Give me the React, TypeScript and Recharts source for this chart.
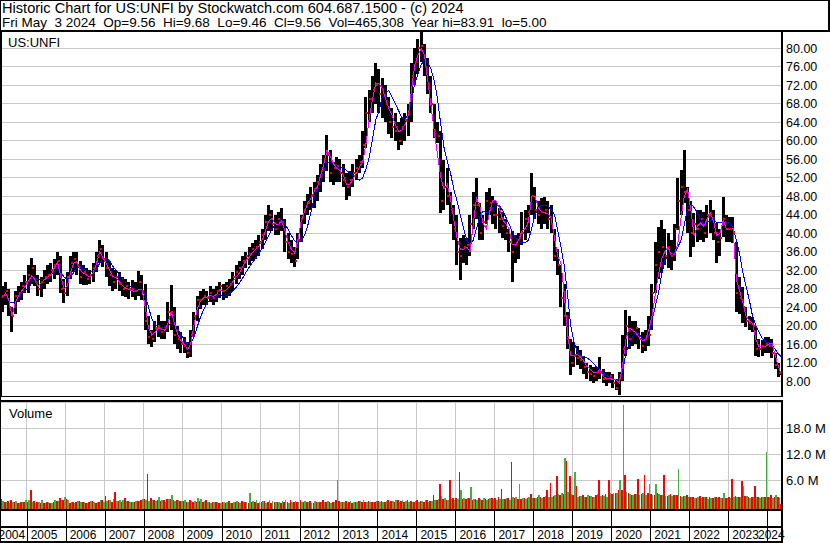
import React from 'react';
import {
  ComposedChart,
  Bar,
  Line,
  Scatter,
  XAxis,
  YAxis,
  CartesianGrid,
} from 'recharts';

const FONT = '"Liberation Sans", Arial, sans-serif';

const titleLine = 'Historic Chart for US:UNFI by Stockwatch.com 604.687.1500 - (c) 2024';
const quoteLine = 'Fri May  3 2024  Op=9.56  Hi=9.68  Lo=9.46  Cl=9.56  Vol=465,308  Year hi=83.91  lo=5.00';
const symbol = 'US:UNFI';

const years = [2004, 2005, 2006, 2007, 2008, 2009, 2010, 2011, 2012, 2013, 2014,
  2015, 2016, 2017, 2018, 2019, 2020, 2021, 2022, 2023, 2024];
const priceTicks = [8, 12, 16, 20, 24, 28, 32, 36, 40, 44, 48, 52, 56, 60, 64, 68, 72, 76, 80];
const volumeTicks = [6, 12, 18];

// monthly bars, May 2004 .. May 2024
const START_YEAR = 2004;
const START_MONTH = 5;

const lows = [
  23, 24.5, 22, 18.7, 22.5, 25, 25.5, 27,
  27, 29, 28.5, 26.5, 26.2, 28, 29, 29.5, 30, 31, 27, 24.8,
  26.5, 30, 31.5, 31, 29, 28.8, 28.8, 29, 29.5, 31.5, 33.5, 32.7,
  30.5, 28.5, 27.5, 28, 27.5, 26.5, 26.2, 25.8, 26.2, 25.5, 26.5, 25.5,
  19, 16, 15.4, 16.5, 17.5, 17, 17, 18.5, 19, 16, 15, 14,
  14, 13, 13.2, 17.5, 21, 23.5, 24.5, 24.5, 25, 24.5, 25, 26,
  25.5, 26, 26.5, 27.5, 29, 30, 31, 32.5, 33, 34, 34.5, 35,
  36.5, 38.5, 40.5, 40.5, 39.5, 39.5, 40.5, 36, 34.5, 33.5, 32.7, 34.5,
  38, 42, 44, 45, 45.5, 47, 49, 51, 53.5, 51, 50.5, 51,
  51, 50, 47.2, 48, 50, 51.5, 53, 54, 58.5, 64, 66, 68,
  66, 65, 64, 61.5, 60.5, 60, 58, 59, 60, 61, 64, 72,
  74.5, 77, 74, 70, 66, 60.5, 59.5, 44.4, 45, 46, 42, 38.5,
  33, 29.9, 33.5, 33, 35, 41, 43, 38.5, 38.5, 42, 44, 42,
  41, 40, 39, 38.5, 36, 29.4, 33.5, 34.5, 37.5, 38.5, 40, 44,
  43, 42, 41, 42, 41, 40, 34, 31, 24, 20, 15, 9.3,
  11, 11.5, 10.5, 9.5, 8.5, 8, 7.6, 8, 8.5, 7.5, 7, 7.5,
  6.5, 6, 5, 8, 13.5, 15, 15.5, 16, 15, 14, 14.5, 15.5,
  19, 27, 30, 31.4, 33, 32.5, 32, 34, 40.7, 44, 46.5, 40,
  34.8, 37, 38, 38.5, 38, 39, 40, 38.5, 33.5, 35, 39.2, 38,
  38, 37.9, 23, 22.5, 20.5, 19.7, 19, 18.5, 13.5, 13.2, 13.5, 14,
  14, 13, 10.5, 8.9, 9.3,
];

const highs = [
  28.5, 29.5, 28, 24, 27.5, 28.5, 29.5, 31,
  33, 34.6, 33, 31, 30.5, 32, 33, 33.5, 34.5, 36, 35, 30,
  31.5, 35, 36, 36, 34, 33, 32.5, 32, 33.5, 36, 38.5, 37.5,
  36, 34, 32.5, 32, 31.5, 30.5, 30, 29.5, 29.8, 29.5, 31.8, 31,
  29, 22, 19, 21, 22.3, 21, 21, 25, 28.8, 24, 20, 18.5,
  17.5, 16.5, 19, 23, 26.5, 27.5, 28, 27.5, 28.5, 28, 28.5, 29.5,
  29, 29.5, 30, 31.5, 33, 34, 35, 36, 37, 37.8, 38.5, 39.5,
  41, 44, 46.1, 45, 44, 44.5, 45.4, 43, 40, 38.5, 37, 40,
  44, 47, 48.5, 50, 51, 52.5, 55, 57, 61.2, 58, 55.5, 56.5,
  56, 55, 53, 53.5, 55, 56, 57, 62, 69.5, 71, 74, 76.8,
  75.5, 73.5, 72, 69.5, 67, 66, 64, 65, 66, 68, 76.8, 80,
  82, 83.9, 81, 78, 74, 68, 64, 62, 55.8, 54, 49, 46,
  44, 39, 39.5, 39, 44, 49, 51.9, 46.5, 44, 49, 49.8, 48,
  47, 45.5, 44.5, 43, 41, 40.5, 39.5, 40, 44.5, 45, 46, 53,
  50, 47, 47.5, 47.8, 47, 46, 41, 36.5, 33, 29, 23, 17,
  16.5, 15.5, 14.7, 13.5, 12, 11.5, 11, 11, 13.2, 10.5, 10, 10,
  9.5, 8.5, 10, 18, 23.4, 22, 21, 21, 19.5, 18.5, 19, 22,
  29, 38, 41.3, 42.8, 41, 40, 38.5, 42, 52, 53.7, 58, 50,
  47, 44.4, 45, 45, 44.5, 46, 47.2, 45, 42.2, 41, 47.8, 44,
  43.5, 43.5, 38, 30.5, 28.3, 24, 22, 21.9, 20, 17, 16.9, 17.5,
  17.5, 17, 14, 12, 10,
];

const closes = [
  26.5, 27.5, 24, 22, 26.5, 27, 28.5, 29.5,
  31, 32.5, 29.5, 28, 29.5, 30.5, 31, 32, 33, 34, 28, 27,
  30.5, 33.5, 34.5, 33, 30.5, 31.5, 30, 31, 32.5, 35, 36.5, 34.5,
  32.5, 31, 29.5, 30.5, 29, 28, 28.5, 28, 28, 27.5, 29.5, 27.5,
  21, 17.5, 17, 19.5, 20, 18.5, 19.5, 23, 23, 18, 17, 16,
  15.5, 14, 18, 22, 25.5, 25.5, 26.5, 26, 27, 26, 27.5, 28.5,
  27.5, 28.5, 29, 30.5, 31.5, 32.5, 34, 35, 35.5, 36.5, 37, 38,
  39.5, 42.5, 44, 42, 41, 43, 42.5, 38, 36, 35.5, 34, 38.5,
  43, 45, 46.5, 48, 49.5, 51, 53.5, 56, 57, 53, 54, 54.5,
  53, 51.5, 50, 51.5, 53, 54, 55.5, 59, 66, 69, 71, 72,
  70, 71, 68, 64, 63, 62, 60, 63, 64.5, 66, 74, 77,
  80, 80.5, 76, 72, 68, 62, 61, 47, 50, 48, 45, 41,
  36, 35, 37, 37.5, 42, 46, 46, 40, 42.5, 47, 46.5, 44,
  44, 43, 41.5, 40, 38, 36, 37.5, 39, 40, 43, 44.5, 48,
  45, 44, 44.5, 45, 43, 42, 35, 33, 26, 22, 17, 12,
  13.5, 13, 12.5, 11, 10, 9.5, 9, 10, 10, 8.5, 8.5, 9,
  7.5, 6.5, 8.5, 15, 20, 17, 19, 19.5, 17, 15.5, 17, 18,
  27, 33, 36, 37, 35, 37, 35, 41, 47, 50, 49, 45,
  40, 42, 41, 43, 40, 44, 44, 40, 38, 39, 43, 41,
  41, 40, 27, 26, 24, 21, 20.5, 20, 15, 15, 15.5, 16,
  15.5, 14, 11.5, 9.8, 9.56,
];

// magenta (short) average
const fastAvg = [
  26, 27, 25.5, 22, 25, 26.5, 27.5, 28.5,
  29.5, 30.8, 30, 28.5, 29.3, 29.9, 30.5, 31, 32.5, 33.8, 30.5, 28,
  28.5, 31.5, 33.5, 33.8, 32, 31.3, 30.9, 30.5, 31.5, 33.5, 36, 34.5,
  33.5, 32, 30.6, 30.3, 29.5, 28.6, 28.1, 27.8, 27.5, 27.3, 27.8, 27.8,
  24, 19.5, 18, 18.5, 19.5, 19.2, 19, 20.5, 23, 20.5, 18, 16.8,
  16, 14.8, 16, 20, 23.5, 25.3, 26, 26.2, 26.5, 26.3, 26.8, 27.8,
  27.3, 27.8, 28.5, 29.5, 30.5, 31.4, 32.8, 34, 34.8, 35.8, 36.5, 37.2,
  38.5, 40.5, 42.5, 43.3, 42, 41.8, 42.8, 40.5, 38, 36.5, 35.7, 38.5,
  42.5, 44.5, 46.5, 47.5, 49, 50, 52.5, 55, 58, 56.5, 55, 54,
  53.5, 52.5, 50.5, 50.5, 51.8, 53, 54.3, 55.5, 59.5, 65, 69, 72.5,
  72.3, 71.3, 69, 67, 65.5, 63.5, 62, 62.3, 63.5, 65.5, 71, 76.5,
  78.5, 80, 78.5, 73, 67.5, 62, 57, 52, 49.5, 50.5, 47.5, 43,
  39, 36.5, 36.5, 37, 36, 42, 47.5, 46, 42.2, 41, 44.5, 47,
  47, 45.5, 43, 42, 41, 37.5, 37.5, 38.5, 40.5, 41, 42.5, 48,
  48, 45.5, 44.7, 44.4, 44.2, 43.2, 39, 35, 33.5, 27, 18.5, 13.5,
  13.5, 13.8, 13.2, 12.3, 11.2, 10.5, 9.8, 9.9, 10.5, 9, 8.5, 8.6,
  8.3, 8.2, 7.6, 11.5, 17, 19.5, 19, 18.5, 17.5, 16.8, 16.9, 19,
  21.9, 26.5, 31, 34.5, 36, 37, 35, 35.5, 37.9, 43.5, 48, 49.5,
  45, 39.5, 41.5, 42.2, 41.5, 43, 44.4, 42.5, 39.5, 40, 42.8, 40.8,
  40.7, 41, 30, 27.5, 25, 22, 21, 20.5, 17, 15.4, 15.4, 15.5,
  16, 16.2, 13.5, 11, 9.3,
];

// blue (long) average
const slowAvg = [
  null, null, 25, 25, 25.2, 26, 27, 27.5,
  28, 29.3, 29.9, 29.9, 29.9, 30, 30.6, 31.2, 31.6, 32.3, 31.5, 30.5,
  30, 30.5, 31.5, 32.5, 32.7, 32.3, 31.8, 31.6, 31.6, 32.2, 33.5, 34.5,
  34.6, 34, 32.8, 32, 31, 30, 29.2, 28.6, 28.2, 27.9, 27.7, 27.6,
  26.5, 24, 21.5, 20.2, 19.7, 19.5, 19.7, 20, 20.5, 20.2, 19.3, 18,
  17, 16, 16.2, 17.5, 19.7, 21.8, 23.5, 24.8, 25.6, 26, 26.3, 26.8,
  26.2, 26.5, 27, 27.5, 28.3, 29.2, 30.3, 31.5, 32.6, 33.6, 34.6, 35.6,
  36.7, 38, 39.5, 40.8, 41.8, 42.5, 42.8, 42, 40.8, 39.5, 38.3, 38,
  38.5, 39.5, 41.5, 44.5, 47.5, 50, 51.5, 53.5, 55, 55.5, 54.8, 54,
  54, 54.3, 53.5, 53, 52.5, 52, 51.5, 52, 54, 56.5, 60.5, 64.5,
  66.5, 69.5, 70.5, 70.8, 69.5, 68, 66.5, 65, 64.5, 66, 68.5, 72.5,
  74.5, 76.5, 77.5, 77, 75.5, 73, 69, 63.5, 58.5, 55.5, 53, 49.5,
  47, 44, 41, 38.5, 37.3, 38.5, 41, 43.5, 44.8, 44.5, 44.5, 45.5,
  46, 46, 45, 43.5, 42, 40.3, 39, 38.2, 37.9, 37.9, 38.5, 41,
  44, 45.5, 46, 46, 45.8, 45, 44, 40.5, 37, 33, 27, 20,
  16.5, 14.5, 13.5, 13.2, 13, 12.5, 11.8, 11, 10.4, 9.7, 9.2, 8.8,
  8.5, 8.2, 8.3, 10, 14, 16, 17.5, 18.5, 18.2, 17.2, 16.9, 17.5,
  21, 24, 27, 31, 34, 35.5, 35.7, 35.7, 37, 38.5, 42, 45.5,
  46.5, 45.5, 44.5, 43, 42, 42.3, 42.7, 42.8, 42.3, 42.2, 42.3, 42.5,
  42, 41.3, 38.5, 35.5, 31.5, 28.5, 25.5, 22, 20, 18.5, 17.2, 16.5,
  16.2, 15.8, 14.8, 13.8, 13.2,
];

// volume in millions, down weeks (red) and up weeks (green)
const volDown = [
  1.6, 1.0, 1.2, 1.4, 0.9, 0.8, 1.0, 0.9,
  1.0, 3.8, 1.2, 0.9, 0.8, 0.7, 0.9, 0.8, 1.0, 1.1, 1.8, 1.5,
  1.6, 0.8, 0.9, 1.0, 1.1, 0.9, 0.8, 0.9, 1.2, 0.8, 0.9, 1.3,
  2.4, 1.3, 1.0, 3.3, 1.2, 1.0, 1.9, 1.1, 1.0, 0.9, 1.2, 1.3,
  1.6, 7.5, 1.8, 1.3, 1.5, 1.2, 1.3, 1.7, 1.6, 1.5, 1.3, 1.1,
  1.2, 1.0, 1.3, 1.0, 0.9, 1.1, 0.9, 1.3, 1.0, 0.9, 1.0, 0.8,
  1.0, 0.8, 1.2, 0.8, 1.0, 0.9, 1.1, 0.9, 0.8, 1.0, 0.9, 0.8,
  0.9, 1.2, 1.0, 0.8, 1.0, 0.9, 0.8, 1.0, 0.9, 1.3, 1.0, 0.9,
  1.4, 1.0, 0.9, 1.1, 0.8, 1.0, 0.9, 1.5, 1.0, 0.9, 1.0, 1.3,
  1.2, 1.0, 1.1, 0.9, 0.8, 1.0, 1.1, 1.0, 0.9, 1.2, 0.9, 1.0,
  1.1, 1.2, 1.0, 1.3, 1.1, 1.0, 1.4, 1.2, 1.0, 1.3, 1.1, 1.0,
  1.4, 1.2, 1.0, 1.3, 1.2, 2.6, 1.5, 5.2, 1.6, 1.5, 6.1, 1.8,
  1.8, 8.0, 1.6, 1.7, 1.9, 1.5, 1.6, 1.8, 1.5, 1.7, 1.6, 1.8,
  1.8, 2.2, 4.0, 1.7, 1.9, 10.1, 1.8, 1.6, 1.7, 1.9, 1.8, 2.8,
  1.9, 2.0, 2.2, 2.1, 3.6, 5.3, 2.4, 7.0, 2.6, 2.8, 10.4, 6.9,
  2.6, 4.7, 2.3, 2.6, 2.2, 2.4, 2.1, 2.6, 6.0, 2.5, 2.7, 6.0,
  2.8, 3.0, 3.6, 3.6, 7.3, 2.9, 2.6, 2.8, 6.3, 2.7, 7.3, 2.9,
  2.8, 2.5, 2.9, 2.6, 7.3, 2.4, 2.7, 2.5, 2.6, 2.3, 2.4, 2.5,
  2.0, 2.2, 1.9, 2.3, 2.1, 2.0, 2.2, 1.9, 2.0, 2.1, 1.8, 1.9,
  2.0, 6.3, 2.4, 2.2, 5.7, 2.3, 2.0, 2.1, 4.7, 2.2, 2.0, 2.1,
  2.0, 2.5, 2.2, 2.0, 0.5,
];

const volUp = [
  1.2, 0.9, 0.8, 1.0, 1.1, 0.7, 0.9, 1.4,
  1.5, 1.0, 0.8, 0.9, 1.4, 0.8, 0.9, 0.7, 1.3, 1.1, 1.5, 2.0,
  1.4, 1.0, 0.8, 1.2, 0.9, 1.0, 0.8, 1.1, 1.0, 0.9, 1.4, 1.0,
  1.2, 1.5, 1.6, 1.2, 1.3, 1.5, 1.1, 1.0, 0.9, 1.1, 1.2, 1.7,
  1.3, 1.2, 1.5, 1.2, 2.2, 1.3, 1.0, 1.6, 2.6, 1.2, 1.4, 1.1,
  1.3, 0.9, 1.1, 1.1, 1.9, 1.7, 1.1, 1.0, 0.8, 1.0, 0.9, 0.8,
  0.9, 1.0, 0.8, 0.9, 1.1, 0.8, 1.0, 0.9, 3.1, 1.1, 1.3, 1.0,
  1.1, 0.8, 1.3, 1.2, 0.9, 1.0, 1.2, 1.3, 0.8, 1.0, 1.1, 0.9,
  1.0, 1.1, 0.9, 0.8, 1.2, 0.9, 1.0, 1.0, 1.2, 0.8, 0.9, 6.1,
  0.9, 1.0, 0.8, 1.1, 1.0, 0.9, 1.2, 1.5, 1.0, 0.9, 1.0, 1.1,
  1.0, 0.9, 1.2, 1.0, 1.1, 1.4, 1.0, 1.3, 1.2, 1.0, 0.9, 1.1,
  1.0, 1.1, 1.3, 1.0, 1.2, 1.4, 1.6, 2.3, 1.8, 1.5, 1.7, 1.5,
  1.6, 3.6, 1.8, 1.8, 4.4, 1.7, 1.4, 1.6, 1.8, 1.5, 1.9, 1.6,
  1.5, 1.7, 1.6, 1.8, 1.5, 2.0, 2.2, 5.0, 1.8, 1.7, 2.1, 1.9,
  1.8, 2.6, 1.9, 2.3, 2.0, 2.2, 2.5, 2.7, 3.0, 11.1, 3.2, 2.8,
  8.0, 2.2, 2.4, 2.0, 2.5, 2.3, 2.2, 2.7, 2.3, 2.4, 2.2, 2.9,
  2.9, 3.1, 6.0, 23.5, 3.2, 2.8, 2.6, 2.7, 2.5, 2.9, 2.6, 5.2,
  2.6, 5.2, 2.7, 2.5, 2.4, 2.6, 2.3, 2.5, 8.7, 2.2, 2.4, 2.2,
  2.1, 1.8, 2.0, 1.9, 2.2, 1.7, 1.9, 2.0, 1.8, 1.8, 2.9, 1.8,
  1.9, 2.1, 2.2, 2.0, 4.7, 2.3, 1.8, 2.0, 2.1, 1.9, 2.2, 12.6,
  2.1, 1.8, 2.6, 1.9, 0.4,
];

// axis ranges, chosen to line the panels up with the frame
const T0 = 2004.315;
const T1 = 2024.38;
const PRICE_DOMAIN = [4.54, 83.74];
const VOL_DOMAIN = [-0.7, 24.14];
const VOL_FLOOR = -0.7;

const monthT = lows.map((_, i) => START_YEAR + (START_MONTH - 1 + i + 0.5) / 12);

const priceRows = monthT.map((t, i) => ({
  t,
  range: [lows[i], highs[i]],
  close: closes[i],
  fast: fastAvg[i],
  slow: slowAvg[i],
}));

const volumeRows = monthT.map((t, i) => ({
  t,
  down: [VOL_FLOOR, volDown[i]],
  up: [VOL_FLOOR, volUp[i]],
}));

const yearTicks = years.slice(1);

const PriceTick = (props: any) => (
  <text x={786} y={props.y} dy="0.36em" fontSize={12.5} fontFamily={FONT} fill="#000">
    {Number(props.payload.value).toFixed(2)}
  </text>
);

const VolumeTick = (props: any) => (
  <text x={786} y={props.y} dy="0.36em" fontSize={13} fontFamily={FONT} fill="#000">
    {Number(props.payload.value).toFixed(1) + ' M'}
  </text>
);

const YearTick = (props: any) => {
  const { x, payload } = props;
  const lx = Math.round(x) + 0.5;
  const tx = Math.min(x + 4, 758);
  return (
    <g>
      <line x1={lx} x2={lx} y1={109} y2={124} stroke="#000" />
      <line x1={lx} x2={lx} y1={126} y2={139} stroke="#000" />
      <text x={tx} y={133} dy="0.36em" fontSize={12} fontFamily={FONT} fill="#000">
        {payload.value}
      </text>
    </g>
  );
};

const CloseMark = (props: any) => {
  if (props.cx == null || props.cy == null) return null;
  return <rect x={props.cx} y={props.cy - 1} width={2} height={2} fill="#ff0000" />;
};

const css = `
.crisp path, .crisp line, .crisp rect { shape-rendering: crispEdges; }
`;

export default function App() {
  return (
    <div
      style={{
        position: 'fixed',
        left: 0,
        top: 0,
        width: 830,
        height: 543,
        background: '#fff',
        overflow: 'hidden',
        fontFamily: FONT,
      }}
    >
      <style>{css}</style>

      {/* header */}
      <div
        style={{
          position: 'absolute',
          left: 2,
          top: 1,
          whiteSpace: 'pre',
          color: '#000',
        }}
      >
        <div style={{ fontSize: 14.6, lineHeight: '14.5px' }}>{titleLine}</div>
        <div style={{ fontSize: 13.5, lineHeight: '14.5px' }}>{quoteLine}</div>
      </div>

      {/* price panel */}
      <div className="crisp" style={{ position: 'absolute', left: 0, top: 31 }}>
        <ComposedChart
          width={830}
          height={366}
          data={priceRows}
          margin={{ top: 0, right: 0, bottom: 0, left: 0 }}
        >
          <CartesianGrid stroke="#c8c8c8" />
          <XAxis
            type="number"
            dataKey="t"
            domain={[T0, T1]}
            ticks={yearTicks}
            allowDataOverflow
            height={0}
            tick={false}
            axisLine={false}
            tickLine={false}
            interval={0}
          />
          <YAxis
            type="number"
            orientation="right"
            width={48}
            domain={PRICE_DOMAIN}
            ticks={priceTicks}
            interval={0}
            allowDataOverflow
            axisLine={false}
            tickLine={false}
            tick={<PriceTick />}
          />
          <Bar dataKey="range" fill="#000" barSize={3} isAnimationActive={false} />
          <Scatter dataKey="close" shape={CloseMark} isAnimationActive={false} />
          <Line
            type="linear"
            dataKey="slow"
            stroke="#0000ff"
            strokeWidth={1}
            dot={false}
            isAnimationActive={false}
          />
          <Line
            type="linear"
            dataKey="fast"
            stroke="#ff00ff"
            strokeWidth={1}
            dot={false}
            isAnimationActive={false}
          />
        </ComposedChart>
      </div>

      {/* volume panel and date strip */}
      <div className="crisp" style={{ position: 'absolute', left: 0, top: 402 }}>
        <ComposedChart
          width={830}
          height={141}
          data={volumeRows}
          barGap={0}
          margin={{ top: 0, right: 0, bottom: 0, left: 0 }}
        >
          <CartesianGrid stroke="#c8c8c8" />
          <XAxis
            type="number"
            dataKey="t"
            domain={[T0, T1]}
            ticks={yearTicks}
            allowDataOverflow
            height={34}
            axisLine={false}
            tickLine={false}
            tick={<YearTick />}
            interval={0}
          />
          <YAxis
            type="number"
            orientation="right"
            width={48}
            domain={VOL_DOMAIN}
            ticks={volumeTicks}
            interval={0}
            allowDataOverflow
            axisLine={false}
            tickLine={false}
            tick={<VolumeTick />}
          />
          <Bar dataKey="down" fill="#ff0000" barSize={1.6} isAnimationActive={false} />
          <Bar dataKey="up" fill="#44b044" barSize={1.6} isAnimationActive={false} />
        </ComposedChart>
      </div>

      {/* frame */}
      <svg
        width={830}
        height={543}
        style={{ position: 'absolute', left: 0, top: 0, pointerEvents: 'none' }}
        shapeRendering="crispEdges"
      >
        <rect x={0} y={0} width={830} height={1} fill="#000" />
        <rect x={0} y={0} width={1} height={543} fill="#000" />
        <rect x={0} y={31} width={2} height={366} fill="#000" />
        <rect x={828} y={0} width={2} height={32} fill="#000" />
        <rect x={0} y={30} width={830} height={2} fill="#000" />
        <rect x={781} y={31} width={2} height={366} fill="#000" />
        <rect x={0} y={396} width={783} height={1} fill="#000" />
        <rect x={0} y={400} width={783} height={2} fill="#000" />
        <rect x={781} y={400} width={2} height={143} fill="#000" />
        <rect x={0} y={509} width={783} height={2} fill="#000" />
        <rect x={0} y={526} width={783} height={2} fill="#000" />
        <rect x={0} y={541} width={783} height={2} fill="#000" />
        <text x={8} y={46.5} fontSize={13} fontFamily={FONT} fill="#000">{symbol}</text>
        <text x={9} y={418} fontSize={13} fontFamily={FONT} fill="#000">Volume</text>
        <text x={-1.5} y={539.3} fontSize={12} fontFamily={FONT} fill="#000">{years[0]}</text>
      </svg>
    </div>
  );
}
